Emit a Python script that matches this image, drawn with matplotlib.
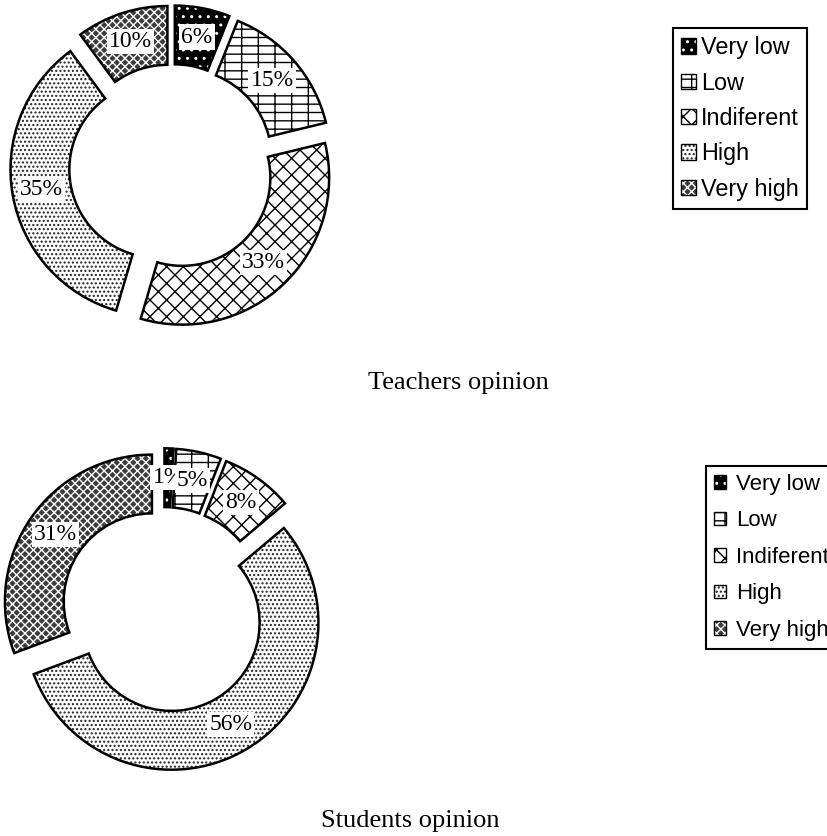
import matplotlib
matplotlib.use("Agg")
import matplotlib.pyplot as plt
from matplotlib.patches import Patch

categories = ["Very low", "Low", "Indiferent", "High", "Very high"]
teachers_pct = [6, 15, 33, 35, 10]
students_pct = [1, 5, 8, 56, 31]
titles = ["Teachers opinion", "Students opinion"]

# fill, hatch colour, hatch per category
faces = ["black", "white", "white", "white", "#3c3c3c"]
hatch_cols = ["white", "black", "black", "#222222", "white"]
hatches = ["..", "--|", "xx", "....", "xxxx"]

W, H = 827, 836
fig = plt.figure(figsize=(W / 100, H / 100), dpi=100)
serif = "Liberation Serif"
sans = "Liberation Sans"


def labeler(values):
    it = iter(values)
    return lambda p: f"{next(it)}%"


def donut(values, cx, cy, R, box):
    x0, y0, x1, y1 = box
    ax = fig.add_axes([x0 / W, 1 - y1 / H, (x1 - x0) / W, (y1 - y0) / H])
    expl = [0.1] * len(values)
    wedges, _, autotexts = ax.pie(values, colors=faces, startangle=90, counterclock=False,
                                  explode=expl, pctdistance=0.8, autopct=labeler(values),
                                  wedgeprops=dict(width=0.4, linewidth=0))
    for w, hc, h in zip(wedges, hatch_cols, hatches):
        w.set_edgecolor(hc)
        w.set_hatch(h)
        w.set_linewidth(0)
    # black outlines on top
    ax.pie(values, startangle=90, counterclock=False, explode=expl,
           wedgeprops=dict(width=0.4, fill=False, edgecolor="black", linewidth=1.8))
    for t in autotexts:
        t.set_fontfamily(serif)
        t.set_fontsize(17)
        t.set_bbox(dict(facecolor="white", edgecolor="none", pad=1.5))
        t.set_zorder(5)
    ax.set_aspect("auto")
    ax.set_xlim((x0 - cx) / R, (x1 - cx) / R)
    ax.set_ylim((cy - y1) / R, (cy - y0) / R)
    ax.axis("off")
    return ax


donut(teachers_pct, 172, 167, 147, (0, 0, 345, 345))
donut(students_pct, 164, 610, 147, (0, 430, 340, 795))

handles = [(Patch(facecolor=f, edgecolor=hc, hatch=h, linewidth=0),
            Patch(fill=False, edgecolor="black", linewidth=1))
           for f, hc, h in zip(faces, hatch_cols, hatches)]

legend_specs = [
    # x, y (px from top-left), font size, handle size, text pad, row spacing
    (673, 28, 16.8, 0.65, 0.2, 0.53),
    (706, 466, 16, 0.55, 0.45, 0.7),
]
for (lx, ly, fs, hs, tp, ls) in legend_specs:
    leg = fig.legend(handles, categories, loc="upper left",
                     bbox_to_anchor=(lx / W, 1 - ly / H), borderaxespad=0,
                     prop=dict(family=sans, size=fs), fancybox=False, framealpha=1,
                     edgecolor="black", handlelength=hs, handleheight=hs,
                     handletextpad=tp, labelspacing=ls, borderpad=0.35)
    leg.get_frame().set_linewidth(1.5)

fig.text(458 / W, 1 - 383 / H, titles[0], family=serif, fontsize=19, ha="center", va="center")
fig.text(410 / W, 1 - 821 / H, titles[1], family=serif, fontsize=19, ha="center", va="center")

fig.savefig("out.png", dpi=100)
